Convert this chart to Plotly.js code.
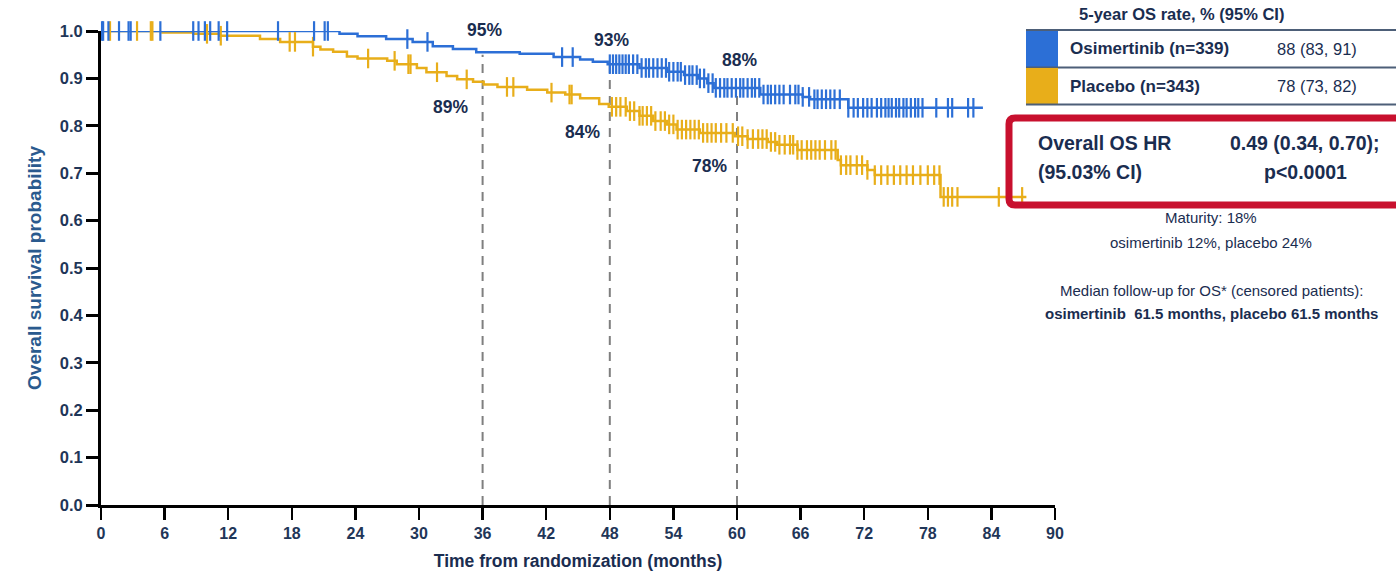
<!DOCTYPE html>
<html>
<head>
<meta charset="utf-8">
<script src="https://cdn.plot.ly/plotly-3.0.1.min.js"></script>
<style>html,body{margin:0;padding:0;background:#fff;}#chart{width:1396px;height:577px;}</style>
</head>
<body>
<div id="chart"></div>
<script>
// ---------- DATA ----------
// Kaplan-Meier step points: time (months) and survival probability
var osiTimes = [0, 22.5, 24.2, 26.9, 29.4, 31.3, 33.2, 35.4, 39.5, 42.7, 45.2, 46.4, 47.8, 50.8, 53.4, 55.0, 56.3, 57.2, 57.8, 62.2, 66.2, 66.9, 70.5, 83.2];
var osiSurv  = [1.0, 0.994, 0.989, 0.983, 0.977, 0.968, 0.962, 0.955, 0.952, 0.945, 0.940, 0.935, 0.930, 0.922, 0.914, 0.907, 0.900, 0.890, 0.880, 0.866, 0.861, 0.856, 0.838, 0.838];
var pboTimes = [0, 5.8, 8.7, 11.2, 15.0, 16.9, 20.0, 20.7, 21.9, 23.2, 24.2, 27.0, 27.9, 29.8, 30.7, 32.6, 33.6, 35.1, 36.1, 37.4, 40.2, 42.1, 43.8, 45.2, 47.0, 47.9, 49.6, 50.8, 52.1, 53.4, 54.3, 56.5, 59.8, 61.0, 62.9, 63.8, 65.7, 69.5, 69.8, 72.3, 73.0, 79.2, 87.3];
var pboSurv  = [1.0, 0.997, 0.994, 0.990, 0.983, 0.977, 0.967, 0.961, 0.956, 0.946, 0.942, 0.937, 0.930, 0.922, 0.913, 0.905, 0.898, 0.893, 0.887, 0.882, 0.876, 0.870, 0.866, 0.858, 0.846, 0.840, 0.831, 0.821, 0.810, 0.803, 0.792, 0.785, 0.778, 0.772, 0.766, 0.760, 0.749, 0.728, 0.717, 0.707, 0.696, 0.650, 0.650];
// Censoring times (months)
var osiCensor = [0.1, 0.2, 0.7, 1.7, 2.6, 2.8, 5.6, 8.7, 9.2, 9.8, 10.3, 11.1, 11.9, 16.7, 20.1, 21.1, 21.4, 28.9, 30.8, 43.5, 44.5,
  48.0, 48.3, 48.6, 48.9, 49.2, 49.5, 49.8, 50.2, 50.6, 51.0, 51.4, 51.7, 52.1, 52.5, 52.9, 53.3, 53.6, 54.0, 54.4, 54.7, 55.1, 55.5, 55.8,
  56.2, 56.5, 56.9, 57.3, 57.7, 58.0, 58.4, 58.8, 59.1, 59.5, 59.9, 60.3, 60.6, 61.0, 61.4, 61.7, 62.1, 62.5, 62.9, 63.2, 63.6, 64.0,
  64.4, 65.0, 65.5, 65.8, 66.2, 66.8, 67.3, 67.6, 68.0, 68.4, 68.8, 69.2, 69.7, 70.5, 71.0, 71.4, 71.9, 72.3, 72.7, 73.2, 73.6, 74.0,
  74.3, 74.6, 75.0, 75.3, 75.7, 76.0, 76.4, 76.8, 77.1, 77.5, 78.8, 79.9, 80.3, 81.8, 82.3];
var pboCensor = [0.85, 3.4, 4.7, 4.85, 10.0, 11.3, 17.8, 18.3, 20.0, 25.2, 27.7, 29.0, 29.2, 31.7, 34.5, 38.3, 38.9, 42.5, 44.2, 44.4,
  48.2, 48.6, 49.0, 49.5, 49.9, 50.3, 50.8, 51.1, 51.5, 51.9, 52.3, 52.8, 53.2, 53.6, 54.0, 54.4, 54.8, 55.2, 55.6, 56.0, 56.4, 56.8,
  57.2, 57.6, 58.0, 58.5, 59.0, 59.6, 60.1, 60.5, 61.0, 61.5, 62.0, 62.4, 62.8, 63.2, 63.6, 64.0, 64.5, 65.0, 65.3, 65.7, 66.1, 66.6,
  67.0, 67.4, 67.8, 68.3, 68.9, 69.3, 69.8, 70.3, 70.7, 71.3, 71.8, 72.3, 73.0, 73.6, 74.2, 74.8, 75.4, 76.0, 76.6, 77.3, 78.0, 78.6,
  79.1, 79.5, 79.9, 80.3, 80.8, 84.7, 86.9];
// Landmarks
var landmarkMonths = [36, 48, 60];
var osiRates = [95, 93, 88];
var pboRates = [89, 84, 78];
// Ticks
var xTicks = [0, 6, 12, 18, 24, 30, 36, 42, 48, 54, 60, 66, 72, 78, 84, 90];
var yTicks = [0.0, 0.1, 0.2, 0.3, 0.4, 0.5, 0.6, 0.7, 0.8, 0.9, 1.0];
// Table
var armNames = ['Osimertinib (n=339)', 'Placebo (n=343)'];
var armRates = ['88 (83, 91)', '78 (73, 82)'];

// ---------- STYLE ----------
var BLUE = '#2c6fd6', GOLD = '#e8ae1a', NAVY = '#1a2d50', TICK = '#1f3658';
var FONT = 'Liberation Sans, Arial, sans-serif';
var NARROW = 'Liberation Sans Narrow, Arial Narrow, Liberation Sans, sans-serif';

function survAt(times, surv, t) {
  var v = surv[0];
  for (var i = 0; i < times.length; i++) { if (times[i] <= t) v = surv[i]; }
  return v;
}

// plot area pixel geometry -> paper coordinates helpers for side panel
var L = 101, R = 1055, T = 31, B = 505;
function px(x) { return (x - L) / (R - L); }
function py(y) { return (B - y) / (B - T); }

var traces = [
  {x: pboTimes, y: pboSurv, mode: 'lines', line: {shape: 'hv', color: GOLD, width: 2.5}, cliponaxis: false, hoverinfo: 'skip', name: 'Placebo'},
  {x: osiTimes, y: osiSurv, mode: 'lines', line: {shape: 'hv', color: BLUE, width: 2.5}, cliponaxis: false, hoverinfo: 'skip', name: 'Osimertinib'},
  {x: pboCensor, y: pboCensor.map(function (t) { return survAt(pboTimes, pboSurv, t); }), mode: 'markers',
   marker: {symbol: 'line-ns', size: 14, line: {color: GOLD, width: 2.2}}, cliponaxis: false, hoverinfo: 'skip'},
  {x: osiCensor, y: osiCensor.map(function (t) { return survAt(osiTimes, osiSurv, t); }), mode: 'markers',
   marker: {symbol: 'line-ns', size: 14, line: {color: BLUE, width: 2.2}}, cliponaxis: false, hoverinfo: 'skip'}
];

var shapes = [];
var annotations = [];
landmarkMonths.forEach(function (m, i) {
  shapes.push({type: 'line', xref: 'x', yref: 'y', x0: m, x1: m, y0: 0, y1: osiRates[i] / 100,
    line: {color: '#7f7f7f', width: 2, dash: '9px,7px'}, layer: 'below'});
  annotations.push({x: m, y: osiRates[i] / 100, xref: 'x', yref: 'y', text: '<b>' + osiRates[i] + '%</b>',
    showarrow: false, yshift: [25, 24, 28][i], xshift: 2, font: {family: FONT, size: 17.5, color: NAVY}});
  annotations.push({x: m, y: pboRates[i] / 100, xref: 'x', yref: 'y', text: '<b>' + pboRates[i] + '%</b>',
    showarrow: false, yshift: [-24, -25, -31][i], xshift: [-32, -27, -28][i], font: {family: FONT, size: 17.5, color: NAVY}});
});

// Side table
var swatch = [BLUE, GOLD];
shapes.push({type: 'line', xref: 'paper', yref: 'paper', x0: px(1026), x1: px(1400), y0: py(30), y1: py(30), line: {color: '#4d5f78', width: 2}});
armNames.forEach(function (n, i) {
  var top = 31 + i * 37, bot = 67 + i * 37;
  shapes.push({type: 'rect', xref: 'paper', yref: 'paper', x0: px(1026), x1: px(1058), y0: py(bot), y1: py(top),
    fillcolor: swatch[i], line: {width: 0}});
  shapes.push({type: 'line', xref: 'paper', yref: 'paper', x0: px(1026), x1: px(1400), y0: py(bot + 0.5), y1: py(bot + 0.5),
    line: {color: '#4d5f78', width: 2}});
  annotations.push({xref: 'paper', yref: 'paper', x: px(1068), y: py((top + bot) / 2), xanchor: 'left', yanchor: 'middle',
    text: '<b>' + n + '</b>', showarrow: false, font: {family: FONT, size: 17, color: NAVY}});
  annotations.push({xref: 'paper', yref: 'paper', x: px(1317), y: py((top + bot) / 2), xanchor: 'center', yanchor: 'middle',
    text: armRates[i], showarrow: false, font: {family: FONT, size: 16.5, color: NAVY}});
});
annotations.push({xref: 'paper', yref: 'paper', x: px(1181), y: py(14), xanchor: 'center', yanchor: 'middle',
  text: '<b>5-year OS rate, % (95% CI)</b>', showarrow: false, font: {family: FONT, size: 16.5, color: NAVY}});

// Hazard ratio box (rounded corners)
var bx0 = px(1009), bx1 = px(1412), by0 = py(205), by1 = py(118), rx = 6 / (R - L), ry = 6 / (B - T);
shapes.push({type: 'path', xref: 'paper', yref: 'paper',
  path: 'M ' + (bx0 + rx) + ' ' + by1 + ' L ' + (bx1 - rx) + ' ' + by1 + ' Q ' + bx1 + ' ' + by1 + ' ' + bx1 + ' ' + (by1 - ry) +
        ' L ' + bx1 + ' ' + (by0 + ry) + ' Q ' + bx1 + ' ' + by0 + ' ' + (bx1 - rx) + ' ' + by0 +
        ' L ' + (bx0 + rx) + ' ' + by0 + ' Q ' + bx0 + ' ' + by0 + ' ' + bx0 + ' ' + (by0 + ry) +
        ' L ' + bx0 + ' ' + (by1 - ry) + ' Q ' + bx0 + ' ' + by1 + ' ' + (bx0 + rx) + ' ' + by1 + ' Z',
  line: {color: '#c8102e', width: 7}, fillcolor: 'rgba(0,0,0,0)'});
annotations.push({xref: 'paper', yref: 'paper', x: px(1036), y: py(143), xanchor: 'left', yanchor: 'middle',
  text: '<b>Overall OS HR</b>', showarrow: false, font: {family: FONT, size: 19.5, color: NAVY}});
annotations.push({xref: 'paper', yref: 'paper', x: px(1036), y: py(172), xanchor: 'left', yanchor: 'middle',
  text: '<b>(95.03% CI)</b>', showarrow: false, font: {family: FONT, size: 19.5, color: NAVY}});
annotations.push({xref: 'paper', yref: 'paper', x: px(1305), y: py(143), xanchor: 'center', yanchor: 'middle',
  text: '<b>0.49 (0.34, 0.70);</b>', showarrow: false, font: {family: FONT, size: 19.5, color: NAVY}});
annotations.push({xref: 'paper', yref: 'paper', x: px(1305), y: py(172), xanchor: 'center', yanchor: 'middle',
  text: '<b>p<0.0001</b>', showarrow: false, font: {family: FONT, size: 19.5, color: NAVY}});

// Notes
var notes = [
  {t: 'Maturity: 18%', y: 218, b: false},
  {t: 'osimertinib 12%, placebo 24%', y: 242, b: false},
  {t: 'Median follow-up for OS* (censored patients):', y: 290, b: false},
  {t: 'osimertinib  61.5 months, placebo 61.5 months', y: 314, b: true}
];
notes.forEach(function (n) {
  annotations.push({xref: 'paper', yref: 'paper', x: px(1211), y: py(n.y), xanchor: 'center', yanchor: 'middle',
    text: n.b ? '<b>' + n.t + '</b>' : n.t, showarrow: false, font: {family: FONT, size: 15, color: NAVY}});
});

var layout = {
  width: 1396, height: 577,
  margin: {l: L, r: 1396 - R, t: T, b: 577 - B},
  paper_bgcolor: '#ffffff', plot_bgcolor: '#ffffff',
  showlegend: false,
  xaxis: {
    range: [0, 90], tickvals: xTicks, ticktext: xTicks.map(String), showgrid: false, zeroline: false,
    showline: true, linecolor: '#000', linewidth: 3, ticks: 'outside', ticklen: 12, tickwidth: 2.5, tickcolor: '#000',
    tickfont: {family: NARROW, size: 16, color: TICK, weight: 'bold'},
    title: {text: '<b>Time from randomization (months)</b>', font: {family: FONT, size: 17.5, color: NAVY}, standoff: 14},
    fixedrange: true
  },
  yaxis: {
    range: [0, 1], tickvals: yTicks, ticktext: yTicks.map(function (v) { return v.toFixed(1); }), showgrid: false, zeroline: false,
    showline: true, linecolor: '#000', linewidth: 3, ticks: 'outside', ticklen: 12, tickwidth: 3, tickcolor: '#000',
    tickfont: {family: FONT, size: 16.5, color: TICK, weight: 'bold'},
    title: {text: '<b>Overall survival probability</b>', font: {family: FONT, size: 19, color: '#2a5a8e'}, standoff: 14},
    fixedrange: true
  },
  shapes: shapes,
  annotations: annotations
};

Plotly.newPlot('chart', traces, layout, {displayModeBar: false, staticPlot: true});
</script>
</body>
</html>
